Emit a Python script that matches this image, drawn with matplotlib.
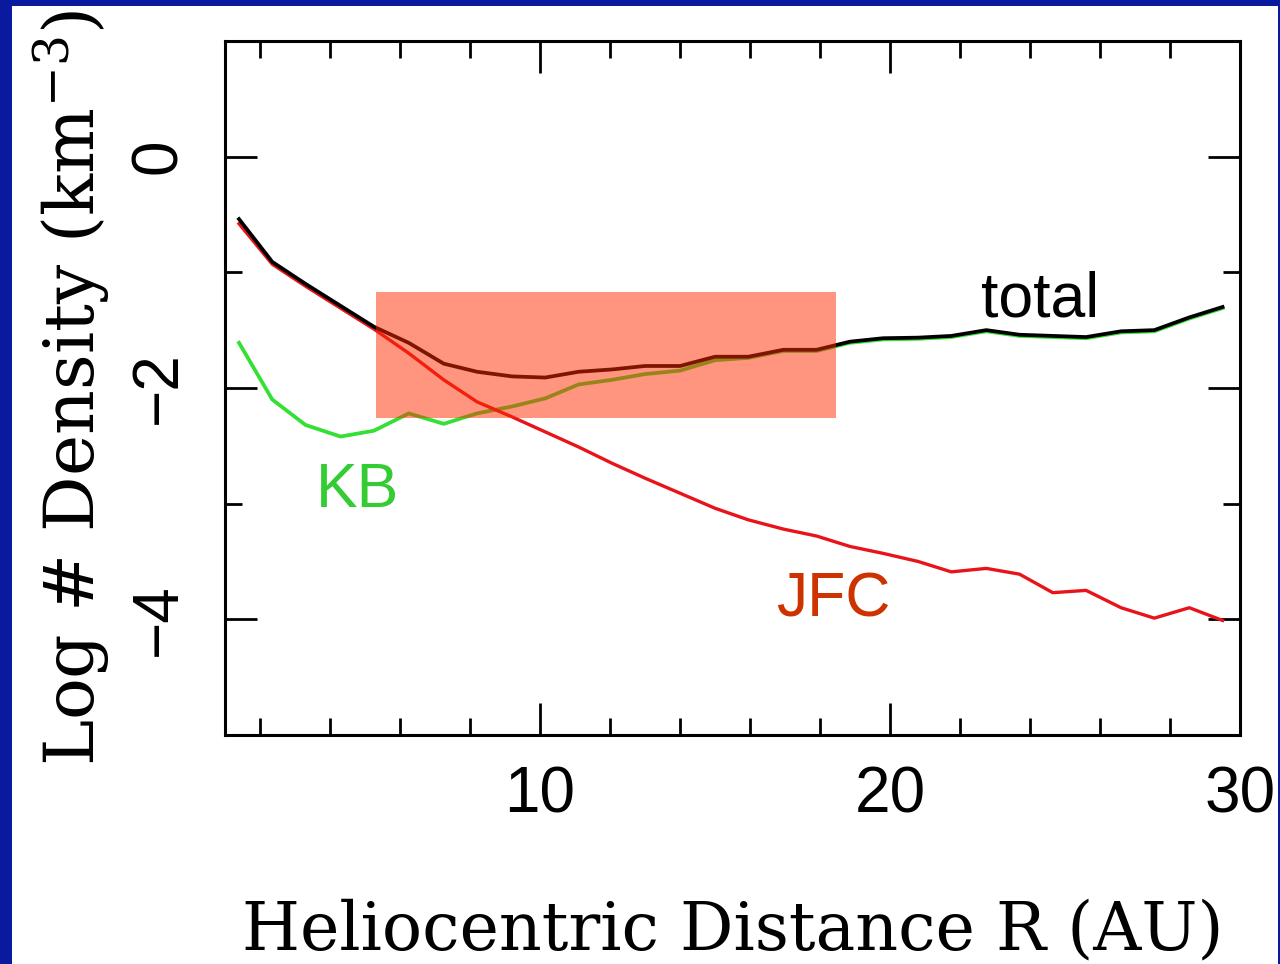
import matplotlib.pyplot as plt
from matplotlib.patches import Rectangle
from matplotlib.ticker import MultipleLocator

plt.rcParams['mathtext.fontset'] = 'dejavuserif'

# heliocentric distance (AU) of each sample
R = [1.4, 2.35, 3.3, 4.3, 5.25, 6.25, 7.25, 8.2, 9.2, 10.15,
     11.1, 12.05, 13.0, 14.0, 15.0, 15.95, 16.95, 17.9, 18.85, 19.8,
     20.8, 21.75, 22.75, 23.7, 24.65, 25.6, 26.6, 27.55, 28.55, 29.5]

# log number density (km^-3)
total = [-0.54, -0.91, -1.10, -1.29, -1.47, -1.61, -1.79, -1.86, -1.90, -1.91,
         -1.86, -1.84, -1.81, -1.81, -1.73, -1.73, -1.67, -1.67, -1.60, -1.57,
         -1.565, -1.55, -1.50, -1.54, -1.55, -1.56, -1.51, -1.50, -1.39, -1.30]
kb = [-1.61, -2.10, -2.32, -2.42, -2.37, -2.22, -2.31, -2.22, -2.16, -2.09,
      -1.97, -1.93, -1.88, -1.85, -1.76, -1.74, -1.68, -1.68, -1.61, -1.58,
      -1.575, -1.56, -1.51, -1.55, -1.56, -1.57, -1.52, -1.51, -1.40, -1.31]
jfc = [-0.58, -0.93, -1.12, -1.31, -1.49, -1.70, -1.93, -2.12, -2.25, -2.38,
       -2.51, -2.65, -2.78, -2.91, -3.04, -3.14, -3.22, -3.28, -3.37, -3.43,
       -3.50, -3.59, -3.56, -3.61, -3.77, -3.75, -3.90, -3.99, -3.90, -4.01]

# highlighted region (R range, log density range)
box_r = (5.3, 18.45)
box_logn = (-2.256, -1.167)

fig = plt.figure(figsize=(12.8, 9.64), dpi=100, facecolor='#0a1a9e')
fig.patches.append(Rectangle((12 / 1280, 0), 1266 / 1280, 958 / 964,
                             transform=fig.transFigure, facecolor='white',
                             edgecolor='none', zorder=-1))

ax = fig.add_axes([0.1758, 0.2376, 0.7930, 0.7199])
ax.set_zorder(1)
ax.set_facecolor('white')

ax.plot(R, kb, color='#33e033', lw=2.7, zorder=2)
ax.plot(R, jfc, color='#e8141a', lw=2.4, zorder=3)
ax.plot(R, total, color='black', lw=2.7, zorder=4)

ax.add_patch(Rectangle((box_r[0], box_logn[0]), box_r[1] - box_r[0],
                       box_logn[1] - box_logn[0], facecolor='#ff2a00',
                       edgecolor='none', alpha=0.5, zorder=5))

lbl = dict(family='Liberation Sans', fontsize=45, ha='left', va='baseline')
ax.text(22.6, -1.38, 'total', color='black', **lbl)
ax.text(3.6, -3.03, 'KB', color='#33cc33', **lbl)
ax.text(16.75, -3.98, 'JFC', color='#cc3300', **lbl)

ax.set_xlim(1, 30)
ax.set_ylim(-5, 1)
ax.xaxis.set_major_locator(MultipleLocator(10))
ax.xaxis.set_minor_locator(MultipleLocator(2))
ax.yaxis.set_major_locator(MultipleLocator(2))
ax.yaxis.set_minor_locator(MultipleLocator(1))

for s in ax.spines.values():
    s.set_linewidth(2.2)
ax.tick_params(which='both', direction='in', top=True, right=True, width=2.0)
ax.tick_params(which='major', length=23)
ax.tick_params(which='minor', length=12)
ax.tick_params(axis='x', labelsize=46, pad=22)
ax.tick_params(axis='y', labelsize=46, pad=26, labelrotation=90)
for t in ax.get_xticklabels() + ax.get_yticklabels():
    t.set_family('Liberation Sans')
for t in ax.get_yticklabels():
    t.set_va('center')

ax.set_xlabel('Heliocentric Distance R (AU)', family='DejaVu Serif',
              fontsize=48, labelpad=52)
ax.set_ylabel(r'Log # Density (km$^{-3}$)', family='DejaVu Serif',
              fontsize=50, labelpad=12)

fig.savefig('out.png', dpi=100, facecolor=fig.get_facecolor())
